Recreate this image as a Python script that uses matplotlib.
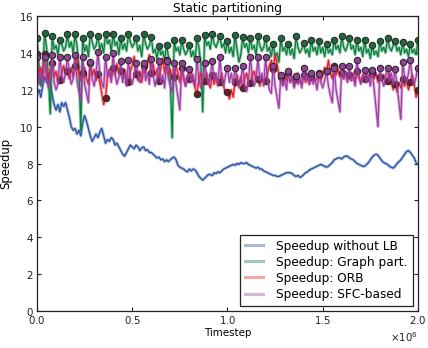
import numpy as np
import matplotlib
matplotlib.use("Agg")
import matplotlib.pyplot as plt

# sampled every 10k timesteps, load balancing every 40k (every 4th sample)
timestep = np.arange(0, 2_000_001, 10_000)
lb_every = 4

no_lb = [
    11.7, 12.0, 11.6, 12.2, 12.7, 12.4, 12.9, 12.3, 11.7, 11.2,
    10.9, 11.2, 10.8, 11.3, 11.1, 11.3, 10.9, 10.5, 10.0, 9.8,
    9.9, 9.6, 9.8, 9.5, 10.2, 10.6, 10.3, 9.9, 9.5, 9.2,
    9.4, 9.6, 9.4, 9.7, 9.9, 9.5, 9.1, 9.3, 9.2, 9.4,
    9.3, 9.0, 9.1, 8.9, 8.7, 8.5, 8.4, 8.6, 8.8, 9.0,
    8.9, 8.8, 9.0, 8.9, 8.7, 8.85, 8.9, 8.7, 8.75, 8.6,
    8.6, 8.5, 8.4, 8.3, 8.35, 8.2, 8.25, 8.1, 8.2, 8.1,
    8.2, 8.3, 8.35, 8.2, 7.9, 7.8, 7.75, 7.7, 7.6, 7.55,
    7.7, 7.6, 7.7, 7.65, 7.5, 7.3, 7.2, 7.1, 7.2, 7.3,
    7.4, 7.4, 7.35, 7.5, 7.45, 7.55, 7.5, 7.6, 7.7, 7.75,
    7.8, 7.85, 7.9, 7.95, 7.9, 8.0, 7.95, 8.05, 8.0, 8.0,
    8.05, 7.95, 7.9, 7.85, 7.8, 7.75, 7.8, 7.7, 7.7, 7.6,
    7.55, 7.5, 7.45, 7.4, 7.35, 7.35, 7.3, 7.3, 7.35, 7.4,
    7.45, 7.5, 7.5, 7.5, 7.45, 7.35, 7.3, 7.35, 7.25, 7.3,
    7.4, 7.5, 7.55, 7.65, 7.7, 7.75, 7.8, 7.85, 7.9, 7.95,
    7.9, 7.85, 7.8, 7.85, 7.95, 8.05, 8.2, 8.25, 8.3, 8.3,
    8.25, 8.35, 8.4, 8.4, 8.3, 8.25, 8.2, 8.1, 8.0, 7.95,
    7.9, 7.85, 7.85, 7.95, 8.05, 8.2, 8.35, 8.45, 8.5, 8.45,
    8.3, 8.15, 8.05, 8.0, 7.95, 7.85, 7.8, 7.75, 7.85, 8.0,
    8.1, 8.2, 8.35, 8.5, 8.65, 8.7, 8.6, 8.45, 8.3, 8.05,
    7.95,
]

graph_part = [
    14.8, 13.4, 12.2, 12.9, 15.1, 14.3, 12.6, 10.7, 14.9, 14.2,
    14.4, 13.9, 14.7, 14.5, 14.1, 14.3, 15.0, 14.3, 14.6, 14.0,
    15.0, 14.4, 13.2, 9.8, 14.8, 14.1, 14.4, 13.8, 15.0, 14.6,
    14.2, 14.4, 14.9, 14.2, 14.5, 14.0, 15.05, 14.5, 14.7, 14.1,
    15.05, 14.4, 14.6, 13.9, 14.8, 14.2, 14.5, 14.1, 15.0, 14.6,
    14.3, 14.5, 14.8, 14.1, 14.4, 13.8, 15.05, 14.5, 14.2, 14.4,
    14.85, 14.0, 14.2, 13.7, 14.35, 13.9, 14.1, 13.6, 14.45, 13.8,
    12.5, 9.4, 14.7, 14.1, 14.3, 13.9, 14.7, 14.2, 13.9, 14.1,
    14.45, 13.8, 14.1, 13.6, 14.8, 14.3, 13.4, 10.8, 14.95, 14.4,
    14.6, 14.2, 15.0, 14.5, 14.3, 14.6, 14.9, 14.3, 14.5, 14.0,
    14.65, 14.0, 14.3, 13.8, 14.95, 14.2, 13.5, 13.9, 14.85, 14.3,
    14.5, 14.0, 14.8, 14.2, 14.4, 13.9, 14.9, 14.4, 14.1, 14.3,
    14.8, 14.1, 14.3, 13.8, 14.5, 13.8, 14.0, 13.5, 14.8, 14.1,
    14.3, 13.9, 14.5, 13.9, 14.2, 13.7, 14.9, 14.3, 14.0, 14.2,
    14.55, 14.0, 14.2, 13.8, 14.7, 14.1, 14.3, 13.9, 14.65, 14.0,
    14.3, 13.8, 14.5, 14.0, 14.2, 13.9, 14.7, 14.2, 14.4, 14.0,
    14.9, 14.3, 14.1, 14.4, 14.8, 14.2, 14.4, 13.9, 14.7, 14.1,
    14.3, 13.8, 14.7, 14.0, 14.2, 13.7, 14.45, 13.9, 14.1, 13.8,
    14.65, 14.1, 14.3, 14.0, 14.8, 14.3, 14.1, 14.4, 14.65, 14.1,
    14.3, 13.9, 14.6, 14.0, 14.2, 13.8, 14.5, 14.0, 14.2, 13.9,
    14.7,
]

orb = [
    13.95, 12.8, 13.2, 12.6, 13.95, 12.9, 12.5, 13.1, 13.45, 12.7,
    13.0, 12.4, 12.55, 12.9, 13.3, 12.8, 13.0, 12.6, 13.2, 12.7,
    13.3, 13.9, 12.9, 12.5, 12.9, 13.2, 12.6, 12.3, 13.45, 12.8,
    13.1, 12.5, 12.85, 12.4, 11.8, 11.2, 11.55, 12.7, 13.1, 12.6,
    13.2, 12.8, 13.4, 12.9, 13.0, 12.6, 13.1, 12.5, 12.4, 13.0,
    13.3, 13.8, 12.85, 12.5, 13.0, 12.4, 13.3, 12.9, 13.5, 13.9,
    12.9, 13.4, 12.8, 13.1, 12.5, 13.2, 13.7, 12.9, 13.6, 12.8,
    13.1, 12.6, 12.7, 13.3, 12.9, 12.4, 13.2, 12.6, 12.2, 12.8,
    12.6, 13.0, 12.5, 12.1, 11.75, 12.6, 12.9, 12.3, 12.5, 12.9,
    12.4, 12.1, 12.8, 12.3, 12.7, 12.2, 12.4, 12.9, 12.2, 11.8,
    11.9, 11.5, 12.0, 11.6, 12.4, 12.8, 12.3, 12.7, 12.1, 12.6,
    12.9, 12.4, 12.35, 12.8, 13.0, 12.5, 12.6, 12.2, 12.7, 12.3,
    12.5, 12.9, 13.3, 13.6, 13.1, 13.9, 13.4, 12.8, 12.7, 12.3,
    12.8, 12.5, 12.9, 12.4, 12.7, 12.2, 12.6, 12.9, 12.5, 12.3,
    12.8, 12.4, 12.7, 12.3, 12.7, 12.9, 12.5, 12.6, 12.9, 12.5,
    12.8, 13.2, 13.0, 13.6, 12.9, 12.6, 13.3, 12.8, 13.1, 12.7,
    12.9, 12.6, 13.0, 12.5, 12.8, 12.5, 12.9, 12.4, 13.0, 12.7,
    12.4, 12.8, 12.6, 12.9, 12.5, 12.7, 12.9, 12.6, 12.9, 12.4,
    12.7, 12.5, 12.8, 12.3, 12.5, 12.9, 12.4, 12.0, 12.3, 11.9,
    12.4, 12.1, 12.6, 12.2, 12.5, 12.0, 12.4, 12.8, 12.3, 11.6,
    12.0,
]

sfc = [
    13.8, 12.3, 12.9, 12.5, 13.8, 12.6, 12.1, 12.7, 13.9, 12.4,
    12.0, 12.3, 13.8, 12.8, 12.4, 12.9, 13.8, 12.9, 12.3, 12.6,
    13.9, 12.5, 11.9, 11.4, 13.8, 12.3, 11.8, 11.3, 13.5, 12.6,
    12.2, 12.8, 14.05, 12.9, 12.4, 12.1, 13.8, 12.7, 13.0, 12.4,
    14.0, 12.8, 12.3, 12.7, 13.55, 12.4, 12.9, 12.2, 13.6, 12.7,
    12.3, 12.8, 13.45, 12.9, 12.4, 12.6, 13.45, 12.5, 12.9, 12.3,
    13.65, 12.8, 12.2, 12.6, 13.55, 12.4, 12.8, 12.1, 13.55, 12.6,
    12.2, 11.9, 13.45, 12.3, 11.6, 10.9, 13.45, 12.7, 12.2, 12.6,
    13.1, 12.4, 12.8, 12.2, 13.65, 12.6, 12.1, 12.5, 13.45, 12.8,
    12.3, 12.7, 13.55, 12.5, 12.9, 12.3, 13.75, 12.6, 12.2, 12.8,
    13.2, 12.4, 12.9, 12.3, 13.2, 12.6, 12.1, 12.5, 13.3, 12.3,
    11.9, 12.4, 13.8, 12.7, 12.2, 12.6, 13.75, 12.5, 12.9, 12.2,
    13.75, 12.6, 12.0, 11.8, 13.3, 12.2, 11.6, 11.0, 12.8, 12.2,
    12.5, 12.0, 13.0, 12.4, 12.7, 12.1, 12.75, 12.3, 12.6, 12.1,
    13.2, 12.5, 12.8, 12.3, 12.9, 12.3, 12.6, 12.0, 12.85, 12.4,
    12.1, 12.5, 13.0, 12.2, 11.7, 11.3, 13.2, 12.0, 11.4, 10.8,
    13.3, 12.6, 12.9, 12.4, 13.3, 12.5, 12.8, 12.2, 13.6, 12.7,
    12.3, 12.6, 13.05, 12.4, 12.8, 12.2, 13.05, 12.0, 11.0, 10.0,
    13.2, 12.6, 12.2, 12.7, 13.2, 12.5, 12.9, 12.3, 13.15, 12.2,
    11.3, 10.4, 13.5, 12.7, 12.4, 12.9, 13.6, 12.6, 12.3, 12.7,
    13.2,
]

series = [
    ("Speedup without LB", no_lb, "#2a52a6", None),
    ("Speedup: Graph part.", graph_part, "#08803c", "#1d6b3c"),
    ("Speedup: ORB", orb, "#ee1c24", "#6a2020"),
    ("Speedup: SFC-based", sfc, "#a03ca6", "#94409a"),
]

plt.rcParams["font.family"] = "DejaVu Sans"
plt.rcParams["axes.formatter.use_mathtext"] = True
plt.rcParams["xtick.direction"] = "in"
plt.rcParams["ytick.direction"] = "in"
plt.rcParams["xtick.top"] = True
plt.rcParams["ytick.right"] = True

fig = plt.figure(figsize=(4.28, 3.48), dpi=100)
ax = fig.add_axes([0.0864, 0.1063, 0.8902, 0.8477])

for label, values, color, marker_color in series:
    # light wide trace (used in the legend) plus a darker core line
    ax.plot(timestep, values, color=color, lw=2.2, alpha=0.4, label=label)
    if marker_color is None:
        ax.plot(timestep, values, color=color, lw=0.9)
    else:
        ax.plot(timestep, values, color=color, lw=0.9, marker="o",
                markevery=lb_every, ms=4.6, mfc=marker_color,
                mec="#2b2b2b", mew=0.8)

ax.set_xlim(0, 2_000_000)
ax.set_ylim(0, 16)
ax.set_yticks(np.arange(0, 17, 2))
ax.set_xticks(np.arange(0, 2_000_001, 500_000))
ax.ticklabel_format(style="sci", axis="x", scilimits=(0, 0))

ax.tick_params(labelsize=7.4, length=3, width=0.8, colors="#222222", pad=2.5)
ax.xaxis.get_offset_text().set_fontsize(7.4)
for sp in ax.spines.values():
    sp.set_linewidth(0.9)
    sp.set_color("#222222")

ax.set_title("Static partitioning", fontsize=8.7, pad=3)
ax.set_xlabel("Timestep", fontsize=7.4, labelpad=1)
ax.set_ylabel("Speedup", fontsize=8.4, labelpad=5)

leg = ax.legend(loc="lower right", fontsize=8.7, fancybox=False,
                framealpha=1, edgecolor="#222222", borderaxespad=0.45,
                handlelength=1.5, handletextpad=1.1, labelspacing=0.25)
leg.get_frame().set_linewidth(0.9)

fig.savefig("out.png", dpi=100)
